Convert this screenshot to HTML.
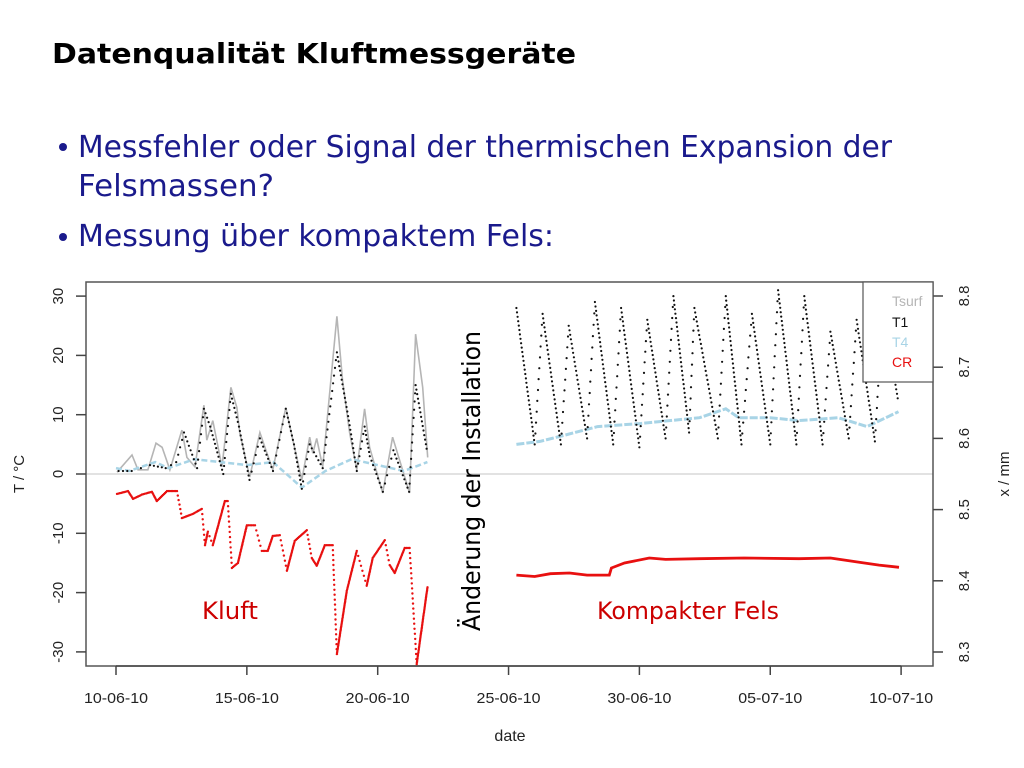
<!DOCTYPE html>
<html><head><meta charset="utf-8"><style>
html,body{margin:0;padding:0;background:#fff;width:1024px;height:768px;overflow:hidden}
svg{display:block}
</style></head><body>
<svg id="chart" width="1024" height="768" viewBox="0 0 1024 768">
<text x="52" y="63" font-family="'DejaVu Sans','Liberation Sans',sans-serif" font-weight="bold" font-size="28" textLength="524" lengthAdjust="spacingAndGlyphs" fill="#000">Datenqualität Kluftmessgeräte</text>
<g font-family="'DejaVu Sans','Liberation Sans',sans-serif" font-size="30" fill="#1a1a8c">
<circle cx="63" cy="147" r="4" fill="#1a1a8c"/>
<text x="78" y="157" textLength="814" lengthAdjust="spacingAndGlyphs">Messfehler oder Signal der thermischen Expansion der</text>
<text x="78" y="196" textLength="196" lengthAdjust="spacingAndGlyphs">Felsmassen?</text>
<circle cx="63" cy="237" r="4" fill="#1a1a8c"/>
<text x="78" y="246" textLength="476" lengthAdjust="spacingAndGlyphs">Messung über kompaktem Fels:</text>
</g>
<g id="plot"></g>
</svg>
<script>
// ---- data ----
const xTickLabels = ["10-06-10","15-06-10","20-06-10","25-06-10","30-06-10","05-07-10","10-07-10"];
const yTicksLeft = [30,20,10,0,-10,-20,-30];
const yTicksRight = [8.8,8.7,8.6,8.5,8.4,8.3];
// days since 10-06-10
const tsurfDays = [0.04,0.61,0.84,1.22,1.53,1.76,2.06,2.52,2.71,3.02,3.36,3.47,3.70,4.05,4.39,4.62,4.73,5.11,5.50,5.69,5.99,6.49,6.76,7.10,7.40,7.52,7.67,7.90,8.44,8.66,8.93,9.20,9.50,9.69,10.19,10.57,11.22,11.45,11.72,11.91];
const tsurfVals = [0.3,3.2,0.7,0.7,5.2,4.5,0.7,7.4,2.8,1.2,11.6,5.7,9,1.2,14.6,11.2,6.9,-0.5,7,4.5,0.7,11.2,5.7,-1,6.2,3.5,6,1.2,26.6,15.7,6.9,0.7,11,4.5,-3.2,6.2,-3.2,23.6,14.6,2.8];
const t1KluftDays = [0.1,0.6,1.3,1.9,2.3,2.6,3.1,3.36,3.6,4.1,4.39,4.7,5.1,5.5,6.0,6.49,6.8,7.1,7.4,7.9,8.44,8.9,9.2,9.5,9.7,10.2,10.6,11.2,11.45,11.9];
const t1KluftVals = [0.5,0.5,1.5,1,2,7,1,11,8,0,13.5,8,-1,6,0.5,11,5,-2.5,5,1,20.5,9,0.5,8,3,-3,4,-3,15,3.5];
const t1Days = [15.3,16.0,16.3,17.0,17.3,18.0,18.3,19.0,19.3,20.0,20.3,21.0,21.3,21.9,22.1,23.0,23.3,23.9,24.3,25.0,25.3,26.0,26.3,27.0,27.3,28.0,28.3,29.0,29.3,29.9];
const t1Vals = [28,5,27,5,25,6,29,5,28,4.5,26,6,30,7,28,6,30,5,27,5,31,5,30,5,24,6,26,5.5,28,12];
const t4Days = [0.0,0.5,1.5,2.0,3.0,4.0,5.0,6.0,7.1,8.0,9.0,10.0,11.0,11.9,15.3,16.2,17.1,18.4,20.0,22.3,23.3,23.8,25.0,26.1,27.6,28.7,29.9];
const t4Vals = [1,0.5,2,1,2.5,2,1.5,2,-2.3,0.5,2.5,1.5,0.5,2,5,5.5,6.5,8,8.5,9.5,11,9.5,9.5,9,9.5,8,10.5];
const crKluftDays = [0.04,0.46,0.65,0.99,1.37,1.56,1.95,2.33,2.52,2.94,3.28,3.40,3.51,3.70,4.16,4.27,4.43,4.66,5.0,5.31,5.57,5.80,5.99,6.26,6.53,6.83,7.29,7.48,7.67,7.98,8.28,8.44,8.82,9.20,9.58,9.81,10.27,10.46,10.65,11.03,11.22,11.49,11.91];
const crKluftVals = [8.522,8.526,8.515,8.521,8.525,8.512,8.526,8.526,8.488,8.494,8.501,8.450,8.469,8.450,8.512,8.512,8.418,8.425,8.478,8.478,8.442,8.442,8.463,8.464,8.414,8.456,8.471,8.432,8.421,8.450,8.450,8.297,8.386,8.442,8.393,8.432,8.457,8.422,8.411,8.446,8.446,8.283,8.393];
const crDays = [15.3,16.0,16.6,17.33,18.0,18.85,18.93,19.43,20.38,21.0,22.29,24.0,26.1,27.3,28.4,29.16,29.92];
const crVals = [8.408,8.406,8.410,8.411,8.408,8.408,8.418,8.425,8.432,8.430,8.431,8.432,8.431,8.432,8.426,8.422,8.419];

// ---- scales ----
const X0=116, PXDAY=26.17;
const tickDays=[0,5,10,15,20,25,30];
function xs(d){return X0+d*PXDAY;}
function yl(t){return 474-t*5.93;}
function yr(m){return 296+(8.8-m)*712;}
const NS="http://www.w3.org/2000/svg";
const plot=document.getElementById('plot');
function mk(tag,attrs,parent){const e=document.createElementNS(NS,tag);for(const k in attrs)e.setAttribute(k,attrs[k]);(parent||plot).appendChild(e);return e;}

const zl=mk('line',{x1:86,x2:933,y1:yl(0),y2:yl(0),stroke:'#d8d8d8','stroke-width':1.5});


const box=mk('rect',{x:86,y:282,width:847,height:384,fill:'none',stroke:'#555','stroke-width':1.5});



const F="'Liberation Sans',Arial,sans-serif";
const xl=mk('line',{x1:xs(0),x2:xs(30),y1:666,y2:666,stroke:'#444','stroke-width':1.5});


tickDays.forEach((d,i)=>{
  const t=mk('line',{x1:xs(d),x2:xs(d),y1:666,y2:675,stroke:'#444','stroke-width':1.5});
  
  
  const l=mk('text',{x:xs(d),y:703,'text-anchor':'middle','font-family':F,'font-size':15,fill:'#222',textLength:64,lengthAdjust:'spacingAndGlyphs'});
  l.textContent=xTickLabels[i];
  
  
});
const xt=mk('text',{x:510,y:741,'text-anchor':'middle','font-family':F,'font-size':16,fill:'#222'});
xt.textContent='date';


yTicksLeft.forEach(v=>{
  const y=yl(v);
  const t=mk('line',{x1:76,x2:86,y1:y,y2:y,stroke:'#444','stroke-width':1.5});
  
  
  const l=mk('text',{x:0,y:0,'text-anchor':'middle','font-family':F,'font-size':15,fill:'#222',transform:`translate(63,${y}) rotate(-90)`});
  l.textContent=String(v);
  
  
});
const ylt=mk('text',{x:0,y:0,'text-anchor':'middle','font-family':F,'font-size':15,fill:'#222',transform:'translate(24,474) rotate(-90)'});
ylt.textContent='T / °C';


yTicksRight.forEach(v=>{
  const y=yr(v);
  const t=mk('line',{x1:933,x2:943,y1:y,y2:y,stroke:'#444','stroke-width':1.5});
  
  
  const l=mk('text',{x:0,y:0,'text-anchor':'middle','font-family':F,'font-size':15,fill:'#222',transform:`translate(969,${y}) rotate(-90)`});
  l.textContent=v.toFixed(1);
  
  
});
const yrt=mk('text',{x:0,y:0,'text-anchor':'middle','font-family':F,'font-size':15,fill:'#222',transform:'translate(1009,474) rotate(-90)'});
yrt.textContent='x / mm';



function linePath(days,vals,yf){return days.map((d,i)=>(i?'L':'M')+xs(d).toFixed(1)+','+yf(vals[i]).toFixed(1)).join('');}
// sparseWhen(dx,dy) decides whether a segment is drawn with sparse dots
function dots(days,vals,yf,color,r,stepSparse,stepDense,sparseWhen,name){
  const g=mk('g',{fill:color});
  
  
  for(let i=0;i<days.length-1;i++){
    const x1=xs(days[i]),y1=yf(vals[i]),x2=xs(days[i+1]),y2=yf(vals[i+1]);
    const step=sparseWhen(x2-x1,y2-y1)?stepSparse:stepDense;
    const n=Math.max(2,Math.round(Math.hypot(x2-x1,y2-y1)/step));
    for(let k=0;k<n;k++){const f=k/n;mk('circle',{cx:(x1+(x2-x1)*f).toFixed(1),cy:(y1+(y2-y1)*f).toFixed(1),r:r},g);}
  }
  return g;
}
const ts=mk('path',{d:linePath(tsurfDays,tsurfVals,yl),fill:'none',stroke:'#b5b5b5','stroke-width':1.6});


const t4a=mk('path',{d:linePath(t4Days.slice(0,14),t4Vals.slice(0,14),yl),fill:'none',stroke:'#a8d4e6','stroke-width':2.5,'stroke-dasharray':'6 3'});


const t4b=mk('path',{d:linePath(t4Days.slice(14),t4Vals.slice(14),yl),fill:'none',stroke:'#a8d4e6','stroke-width':3,'stroke-dasharray':'8 2'});


const rising=(dx,dy)=>dy<0;
const steepDrop=(dx,dy)=>dy>0&&dy>2*dx;
dots(t1KluftDays,t1KluftVals,yl,'#111',1.1,8,4.5,rising,'t1-dots-kluft');
dots(t1Days,t1Vals,yl,'#111',1.1,11,4.5,rising,'t1-dots-fels');
dots(crKluftDays,crKluftVals,yr,'#e81010',1.2,5,1.5,steepDrop,'cr-dots-kluft');
const cr=mk('path',{d:linePath(crDays,crVals,yr),fill:'none',stroke:'#e81010','stroke-width':2.8});



const lg=mk('g',{});


mk('rect',{x:863,y:282,width:70,height:100,fill:'#fff',stroke:'#555','stroke-width':1.2},lg);
[['Tsurf','#b5b5b5',306],['T1','#111',327],['T4','#a8d4e6',347],['CR','#e81010',367]].forEach(([t,c,y])=>{
  const e=mk('text',{x:892,y:y,'font-family':F,'font-size':14,fill:c},lg);
  e.textContent=t;
  
  
});

const a1=mk('text',{x:0,y:0,'text-anchor':'middle','font-family':"'DejaVu Sans','Liberation Sans',sans-serif",'font-size':25,fill:'#000',transform:'translate(480,481) rotate(-90)',textLength:300,lengthAdjust:'spacingAndGlyphs'});
a1.textContent='Änderung der Installation';


const a2=mk('text',{x:230,y:619,'text-anchor':'middle','font-family':"'DejaVu Sans','Liberation Sans',sans-serif",'font-size':24,fill:'#cc0000',textLength:56,lengthAdjust:'spacingAndGlyphs'});
a2.textContent='Kluft';


const a3=mk('text',{x:688,y:619,'text-anchor':'middle','font-family':"'DejaVu Sans','Liberation Sans',sans-serif",'font-size':24,fill:'#cc0000',textLength:182,lengthAdjust:'spacingAndGlyphs'});
a3.textContent='Kompakter Fels';


</script>
</body></html>
